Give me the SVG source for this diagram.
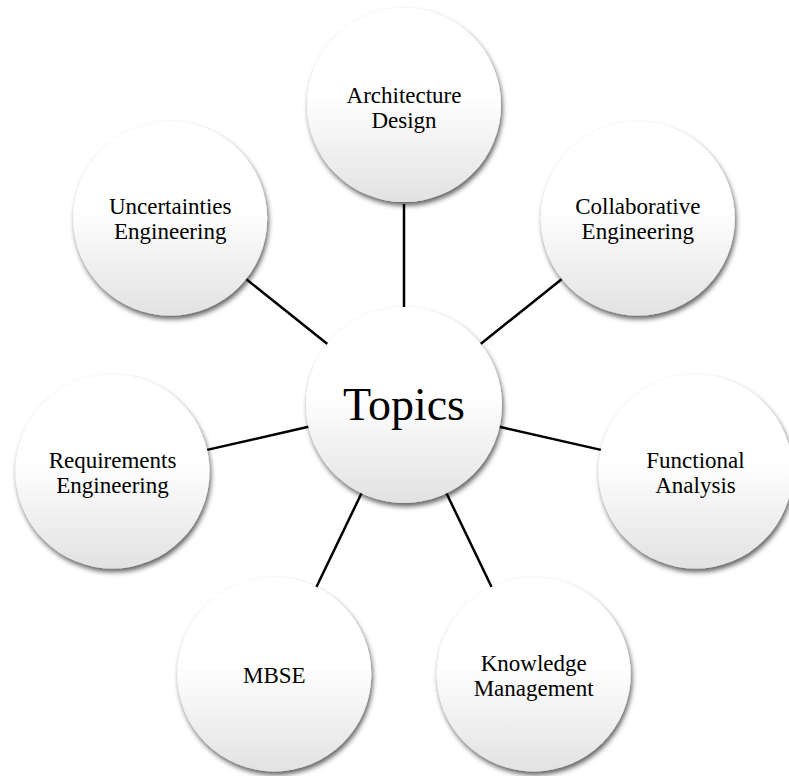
<svg xmlns="http://www.w3.org/2000/svg" width="789" height="776" viewBox="0 0 789 776">
<style>
.bub{fill:url(#g);filter:url(#sh);}
.lbl{font-family:"Liberation Serif","Times New Roman",serif;font-size:23px;fill:#000;text-anchor:middle;}
.big{font-size:46px;}
.con line{stroke:#000;stroke-width:2.5;}
</style>
<defs>
<linearGradient id="g" x1="0" y1="0" x2="0" y2="1">
<stop offset="0" stop-color="#ffffff"/>
<stop offset="0.45" stop-color="#ffffff"/>
<stop offset="1" stop-color="#e2e2e2"/>
</linearGradient>
<filter id="sh" x="-20%" y="-20%" width="140%" height="140%">
<feDropShadow dx="1.5" dy="3.5" stdDeviation="2.5" flood-color="#000" flood-opacity="0.62"/>
</filter>
</defs>
<rect width="789" height="776" fill="#fff"/>
<g id="connectors" class="con">
<line x1="404" y1="307" x2="404" y2="204"/>
<line x1="480.6" y1="343.9" x2="561.9" y2="279.1"/>
<line x1="499.5" y1="426.8" x2="600.9" y2="449.9"/>
<line x1="446.5" y1="493.3" x2="491.6" y2="587"/>
<line x1="361.5" y1="493.3" x2="316.4" y2="587"/>
<line x1="308.5" y1="426.8" x2="207.1" y2="449.9"/>
<line x1="327.4" y1="343.9" x2="246.1" y2="279.1"/>
</g>
<g id="topics">
<circle class="bub" cx="404" cy="405" r="98"/>
<text class="lbl big" x="404" y="420">Topics</text>
</g>
<g id="architecture-design">
<circle class="bub" cx="404" cy="105" r="97"/>
<text class="lbl" x="404" y="103">Architecture</text>
<text class="lbl" x="404" y="128">Design</text>
</g>
<g id="collaborative-engineering">
<circle class="bub" cx="637.8" cy="218.6" r="97"/>
<text class="lbl" x="637.8" y="214">Collaborative</text>
<text class="lbl" x="637.8" y="239">Engineering</text>
</g>
<g id="functional-analysis">
<circle class="bub" cx="695.5" cy="471.5" r="97"/>
<text class="lbl" x="695.5" y="468">Functional</text>
<text class="lbl" x="695.5" y="493">Analysis</text>
</g>
<g id="knowledge-management">
<circle class="bub" cx="533.7" cy="674.4" r="97"/>
<text class="lbl" x="533.7" y="671">Knowledge</text>
<text class="lbl" x="533.7" y="696">Management</text>
</g>
<g id="mbse">
<circle class="bub" cx="274.3" cy="674.4" r="97"/>
<text class="lbl" x="274.3" y="683">MBSE</text>
</g>
<g id="requirements-engineering">
<circle class="bub" cx="112.5" cy="471.5" r="97"/>
<text class="lbl" x="112.5" y="468">Requirements</text>
<text class="lbl" x="112.5" y="493">Engineering</text>
</g>
<g id="uncertainties-engineering">
<circle class="bub" cx="170.2" cy="218.6" r="97"/>
<text class="lbl" x="170.2" y="214">Uncertainties</text>
<text class="lbl" x="170.2" y="239">Engineering</text>
</g>
</svg>
